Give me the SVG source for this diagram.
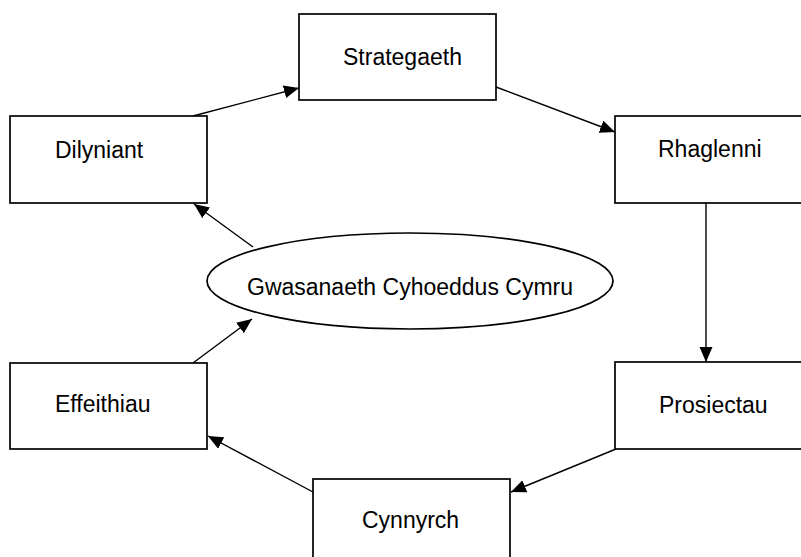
<svg xmlns="http://www.w3.org/2000/svg" width="801" height="557" viewBox="0 0 801 557">
<defs>
<marker id="ah" markerUnits="userSpaceOnUse" markerWidth="16" markerHeight="14" refX="15" refY="6.5" orient="auto">
<path d="M0,0 L15,6.5 L0,13 Z" fill="#000"/>
</marker>
<style>
.b{fill:#fff;stroke:#000;stroke-width:1.7}
.t{font-family:"Liberation Sans",Arial,sans-serif;font-size:23px;fill:#000}
.c{stroke:#000;stroke-width:1.4;fill:none;marker-end:url(#ah)}
</style>
</defs>
<rect width="801" height="557" fill="#fff"/>
<g id="connectors">
<line class="c" x1="193" y1="116" x2="299" y2="88"/>
<line class="c" x1="496" y1="87" x2="615" y2="132"/>
<line class="c" x1="706" y1="203" x2="706" y2="362"/>
<line class="c" x1="616" y1="449" x2="511" y2="492"/>
<line class="c" x1="313" y1="492" x2="208" y2="436"/>
<line class="c" x1="193" y1="363" x2="252" y2="319"/>
<line class="c" x1="253" y1="247" x2="194" y2="204"/>
</g>
<g id="strategaeth"><rect class="b" x="299" y="14" width="197" height="86"/><text class="t" x="343" y="65">Strategaeth</text></g>
<g id="rhaglenni"><rect class="b" x="615" y="116" width="197" height="87"/><text class="t" x="658" y="157">Rhaglenni</text></g>
<g id="prosiectau"><rect class="b" x="615" y="362" width="197" height="87"/><text class="t" x="659" y="413">Prosiectau</text></g>
<g id="cynnyrch"><rect class="b" x="313" y="479" width="197" height="87"/><text class="t" x="362" y="528">Cynnyrch</text></g>
<g id="effeithiau"><rect class="b" x="10" y="363" width="197" height="86"/><text class="t" x="55" y="412">Effeithiau</text></g>
<g id="dilyniant"><rect class="b" x="10" y="116" width="197" height="87"/><text class="t" x="55" y="158">Dilyniant</text></g>
<g id="gwasanaeth"><ellipse class="b" cx="410" cy="281" rx="203" ry="48"/><text class="t" x="247" y="295">Gwasanaeth Cyhoeddus Cymru</text></g>
</svg>
